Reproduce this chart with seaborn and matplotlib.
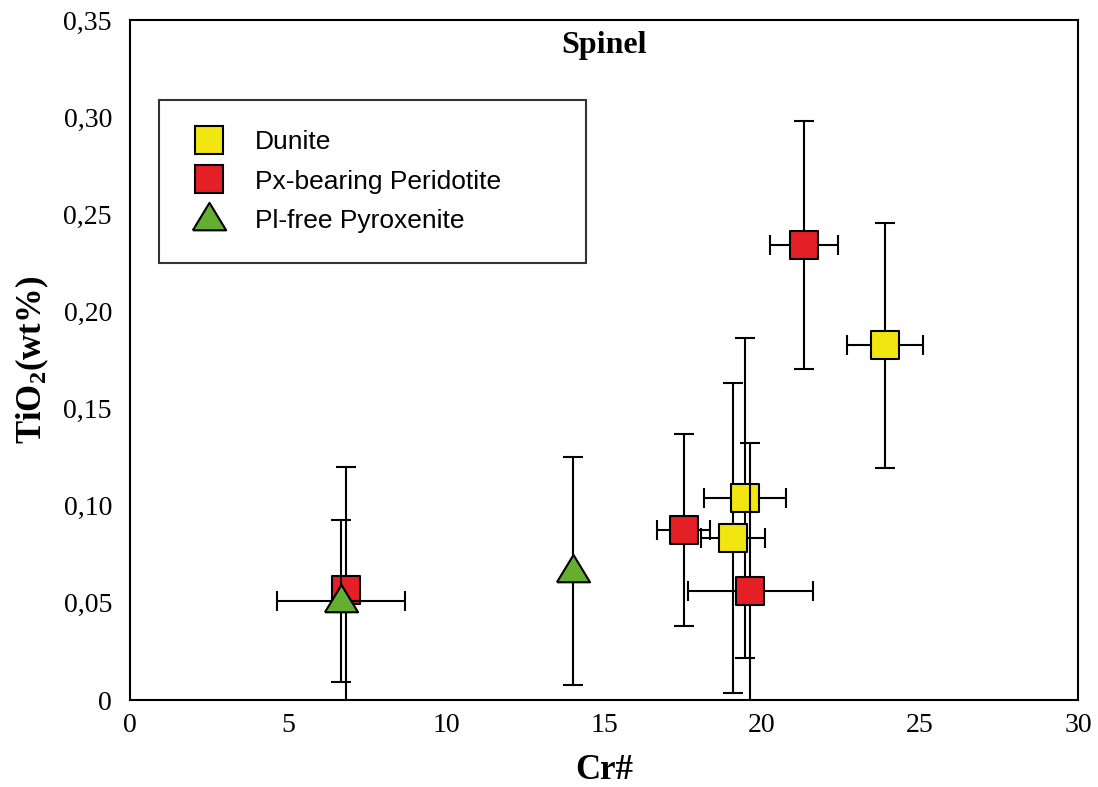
import matplotlib
matplotlib.use("Agg")
import matplotlib.pyplot as plt
import seaborn as sns
import numpy as np
import pandas as pd
from matplotlib.lines import Line2D

# ---- data ----
dunite_x = [23.90, 19.47, 19.07]
dunite_y = [0.1825, 0.1039, 0.0834]
dunite_xerr = [1.21, 1.30, 1.01]
dunite_yerr = [0.0629, 0.0824, 0.0800]

px_x = [21.33, 17.52, 19.63, 6.82]
px_y = [0.2343, 0.0875, 0.0563, 0.0564]
px_xerr = [1.07, 0.83, 1.98, 0.0]
px_yerr = [0.0637, 0.0495, 0.0761, 0.0635]

pl_x = [6.67, 14.01]
pl_y = [0.0509, 0.0662]
pl_xerr = [2.02, 0.0]
pl_yerr = [0.0416, 0.0587]

labels = ["Dunite", "Px-bearing Peridotite", "Pl-free Pyroxenite"]
x_ticks = [0, 5, 10, 15, 20, 25, 30]
y_ticks = [0, 0.05, 0.10, 0.15, 0.20, 0.25, 0.30, 0.35]
y_ticklabels = ["0", "0,05", "0,10", "0,15", "0,20", "0,25", "0,30", "0,35"]

colors = ["#F1E60F", "#E41F26", "#64AE30"]

sns.set_style("white")
plt.rcParams["font.family"] = ["Liberation Serif", "DejaVu Serif"]
plt.rcParams["text.color"] = "black"
plt.rcParams["axes.labelcolor"] = "black"
plt.rcParams["xtick.color"] = "black"
plt.rcParams["ytick.color"] = "black"
plt.rcParams["mathtext.fontset"] = "custom"
plt.rcParams["mathtext.rm"] = "Liberation Serif:bold"
plt.rcParams["mathtext.bf"] = "Liberation Serif:bold"
plt.rcParams["mathtext.it"] = "Liberation Serif:bold"
plt.rcParams["mathtext.default"] = "bf"

fig = plt.figure(figsize=(10.98, 7.87), dpi=100)
ax = fig.add_axes([130 / 1098, 87 / 787, 948 / 1098, 680 / 787])

tri = [(-1, -0.65), (1, -0.65), (0, 1.0), (-1, -0.65)]

groups = [
    (dunite_x, dunite_y, dunite_xerr, dunite_yerr, "s", 400, colors[0]),
    (px_x, px_y, px_xerr, px_yerr, "s", 400, colors[1]),
    (pl_x, pl_y, pl_xerr, pl_yerr, tri, 570, colors[2]),
]

z = 2
for gx, gy, gxe, gye, mk, s, c in groups:
    ax.errorbar(gx, gy, xerr=gxe, yerr=gye, fmt="none", ecolor="black",
                elinewidth=1.5, capsize=7.5, capthick=1.5, zorder=z)
    df = pd.DataFrame({"x": gx, "y": gy})
    sns.scatterplot(data=df, x="x", y="y", marker=mk, s=s, color=c,
                    edgecolor="black", linewidth=1.5, ax=ax, zorder=z + 1,
                    legend=False)
    z += 2

ax.set_xlim(0, 30)
ax.set_ylim(0, 0.35)
ax.set_xticks(x_ticks)
ax.set_xticklabels([str(v) for v in x_ticks])
ax.set_yticks(y_ticks)
ax.set_yticklabels(y_ticklabels)
ax.tick_params(axis="both", direction="in", length=7, width=1.3,
               labelsize=20, colors="black")
ax.tick_params(axis="x", pad=9)
ax.tick_params(axis="y", pad=13)
for sp in ax.spines.values():
    sp.set_visible(True)
    sp.set_color("black")
    sp.set_linewidth(1.5)

ax.set_xlabel("Cr#", fontsize=25, fontweight="bold", labelpad=12, color="black")
ax.set_ylabel(r"TiO$_{2}$(wt%)", fontsize=25, fontweight="bold", labelpad=9,
              color="black")

ax.text(0.5, 0.963, "Spinel", transform=ax.transAxes, ha="center",
        va="center", fontsize=23, fontweight="bold", color="black")

handles = [
    Line2D([], [], linestyle="none", marker="s", markersize=20,
           markerfacecolor=colors[0], markeredgecolor="black", markeredgewidth=1.5),
    Line2D([], [], linestyle="none", marker="s", markersize=20,
           markerfacecolor=colors[1], markeredgecolor="black", markeredgewidth=1.5),
    Line2D([], [], linestyle="none", marker=tri, markersize=24,
           markerfacecolor=colors[2], markeredgecolor="black", markeredgewidth=1.5),
]
leg = ax.legend(handles, labels, loc="upper left",
                bbox_to_anchor=(29 / 948, (700 - 262) / 680, 427 / 948, 162 / 680),
                mode="expand", borderaxespad=0,
                prop={"family": "Liberation Sans", "size": 19},
                frameon=True, fancybox=False, edgecolor="black",
                borderpad=1.15, labelspacing=0.58, handlelength=1.48,
                handletextpad=1.0, labelcolor="black")
leg.get_frame().set_linewidth(1.5)

fig.savefig("out.png", dpi=100)
